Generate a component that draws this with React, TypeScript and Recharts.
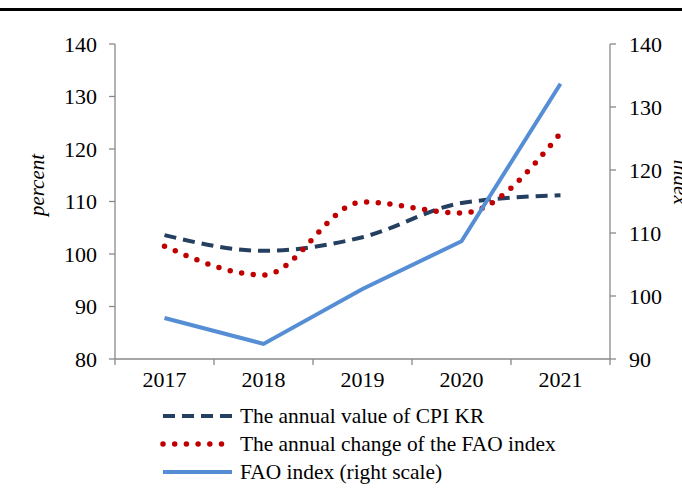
import React from 'react';
import { LineChart, Line, XAxis, YAxis, ReferenceLine } from 'recharts';

const years = ['2017', '2018', '2019', '2020', '2021'];
const cpiKR = [103.6, 100.6, 103.2, 109.7, 111.2];
const faoChange = [101.5, 96.0, 109.9, 107.8, 123.0];
const faoIndex = [96.5, 92.4, 101.1, 108.7, 133.7];
const leftTicks = [80, 90, 100, 110, 120, 130, 140];
const rightTicks = [90, 100, 110, 120, 130, 140];
const seriesNames = [
  'The annual value of CPI KR',
  'The annual change of the FAO index',
  'FAO index (right scale)',
];
const leftTitle = 'percent';
const rightTitle = 'index';

const data = years.map((y, i) => ({
  pos: i + 0.5,
  year: y,
  cpi: cpiKR[i],
  change: faoChange[i],
  fao: faoIndex[i],
}));
const boundaries = years.map((_, i) => i).concat([years.length]);
const centers = years.map((_, i) => i + 0.5);

const AXIS = '#898989';
const FONT = '"Liberation Serif", "Times New Roman", serif';
const FS = 22;
const tickStyle = { fill: '#000', fontSize: FS, fontFamily: FONT };

const styles = [
  { stroke: '#243F60', strokeWidth: 4, strokeDasharray: '12 7', strokeLinecap: 'butt' as const },
  { stroke: '#C00000', strokeWidth: 5.5, strokeDasharray: '0 11.7', strokeLinecap: 'round' as const },
  { stroke: '#558ED5', strokeWidth: 4, strokeDasharray: undefined, strokeLinecap: 'butt' as const },
];

export default function App() {
  return (
    <div style={{ position: 'absolute', left: 0, top: 0, width: 682, height: 500, background: '#fff', fontFamily: FONT }}>
      <div style={{ position: 'absolute', left: 0, top: 8, width: 682, height: 2.5, background: '#000' }} />
      <LineChart
        width={682}
        height={500}
        data={data}
        margin={{ top: 44, right: 0, bottom: 111, left: 0 }}
        style={{ fontFamily: FONT }}
      >
        <XAxis
          dataKey="pos"
          type="number"
          domain={[0, years.length]}
          ticks={centers}
          tickFormatter={(v: number) => years[Math.floor(v)]}
          tickLine={false}
          axisLine={{ stroke: AXIS, strokeWidth: 1.3 }}
          tick={tickStyle}
          tickSize={6}
          tickMargin={6}
          height={30}
          allowDecimals
        />
        <YAxis
          yAxisId="left"
          domain={[80, 140]}
          ticks={leftTicks}
          tick={tickStyle}
          tickSize={6}
          tickMargin={12}
          width={115}
          axisLine={{ stroke: AXIS, strokeWidth: 1.3 }}
          tickLine={{ stroke: AXIS, strokeWidth: 1.3 }}
          label={{
            content: ({ viewBox }: any) => (
              <text
                x={viewBox.x + 37}
                y={185}
                transform={`rotate(-90, ${viewBox.x + 37}, 185)`}
                textAnchor="middle"
                dominantBaseline="central"
                fontStyle="italic"
                fontSize={21}
                fontFamily={FONT}
                fill="#000"
              >
                {leftTitle}
              </text>
            ),
          }}
        />
        <YAxis
          yAxisId="right"
          orientation="right"
          domain={[90, 140]}
          ticks={rightTicks}
          tick={tickStyle}
          tickSize={6}
          tickMargin={13}
          width={72}
          axisLine={{ stroke: AXIS, strokeWidth: 1.3 }}
          tickLine={{ stroke: AXIS, strokeWidth: 1.3 }}
          label={{
            content: ({ viewBox }: any) => (
              <text
                x={viewBox.x + 64}
                y={182}
                transform={`rotate(90, ${viewBox.x + 64}, 182)`}
                textAnchor="middle"
                fontStyle="italic"
                fontSize={21}
                fontFamily={FONT}
                fill="#000"
              >
                {rightTitle}
              </text>
            ),
          }}
        />
        {boundaries.map((b) => (
          <ReferenceLine
            key={b}
            yAxisId="left"
            segment={[{ x: b, y: 80 }, { x: b, y: 78.86 }]}
            ifOverflow="visible"
            stroke={AXIS}
            strokeWidth={1.3}
          />
        ))}
        <Line
          yAxisId="left"
          type="monotone"
          dataKey="cpi"
          name={seriesNames[0]}
          {...styles[0]}
          dot={false}
          activeDot={false}
          isAnimationActive={false}
        />
        <Line
          yAxisId="left"
          type="monotone"
          dataKey="change"
          name={seriesNames[1]}
          {...styles[1]}
          dot={false}
          activeDot={false}
          isAnimationActive={false}
        />
        <Line
          yAxisId="right"
          type="linear"
          dataKey="fao"
          name={seriesNames[2]}
          {...styles[2]}
          dot={false}
          activeDot={false}
          isAnimationActive={false}
        />
      </LineChart>
      <div style={{ position: 'absolute', left: 160, top: 402 }}>
        {seriesNames.map((n, i) => (
          <div key={n} style={{ display: 'flex', alignItems: 'center', height: 28 }}>
            <svg width={76} height={10} style={{ marginRight: 4 }}>
              <line
                x1={3}
                y1={5}
                x2={72}
                y2={5}
                stroke={styles[i].stroke}
                strokeWidth={styles[i].strokeWidth}
                strokeDasharray={styles[i].strokeDasharray}
                strokeLinecap={styles[i].strokeLinecap}
              />
            </svg>
            <span style={{ fontSize: 21.4, lineHeight: '28px', color: '#000', whiteSpace: 'nowrap' }}>{n}</span>
          </div>
        ))}
      </div>
    </div>
  );
}
